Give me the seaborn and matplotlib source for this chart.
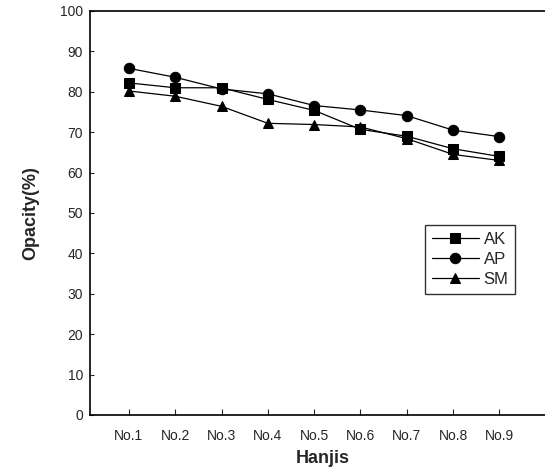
import numpy as np
import pandas as pd
import matplotlib
matplotlib.use("Agg")
import matplotlib.pyplot as plt
import seaborn as sns

hanjis = ["No.1", "No.2", "No.3", "No.4", "No.5", "No.6", "No.7", "No.8", "No.9"]
ak = [82.2, 81.0, 81.0, 78.1, 75.4, 70.7, 69.0, 65.9, 64.0]
ap = [85.8, 83.6, 80.7, 79.5, 76.6, 75.5, 74.1, 70.5, 68.9]
sm = [80.2, 78.9, 76.4, 72.2, 71.9, 71.3, 68.4, 64.5, 63.0]

df = pd.DataFrame({
    "pos": list(range(len(hanjis))) * 3,
    "value": ak + ap + sm,
    "sample": ["AK"] * 9 + ["AP"] * 9 + ["SM"] * 9,
})

sns.set_style("ticks")
plt.rcParams["font.family"] = ["Liberation Sans", "DejaVu Sans"]

fig = plt.figure(figsize=(5.45, 4.74), dpi=100)
ax = fig.add_axes([90 / 545, 1 - 415 / 474, 465 / 545, 404 / 474])

sns.lineplot(data=df, x="pos", y="value", hue="sample", style="sample",
             palette=["black"] * 3, markers={"AK": "s", "AP": "o", "SM": "^"},
             dashes=False, markersize=7.5, linewidth=0.9, markeredgecolor="black",
             ax=ax)

ax.set_xlim(-0.84, 9.2)
ax.set_ylim(0, 100)
ax.set_xticks(range(len(hanjis)))
ax.set_xticklabels(hanjis, fontsize=10)
ax.set_yticks(range(0, 101, 10))
ax.tick_params(axis="y", labelsize=10, direction="in", length=3, width=0.8, pad=5)
ax.tick_params(axis="x", direction="in", length=4, width=0.8, pad=10)
for s in ["left", "bottom", "top"]:
    ax.spines[s].set_linewidth(1.2)
    ax.spines[s].set_color("black")
ax.spines["right"].set_visible(False)
ax.set_xlabel("Hanjis", fontsize=13, fontweight="bold", labelpad=5)
ax.set_ylabel("Opacity(%)", fontsize=13, fontweight="bold", labelpad=15)

leg = ax.legend(loc="lower left", bbox_to_anchor=(0.703, 0.28), frameon=True,
                fancybox=False, edgecolor="black", fontsize=12, handlelength=2.8,
                borderpad=0.4, labelspacing=0.3, handletextpad=0.3)
leg.get_frame().set_linewidth(1.0)

fig.savefig("out.png", dpi=100)
